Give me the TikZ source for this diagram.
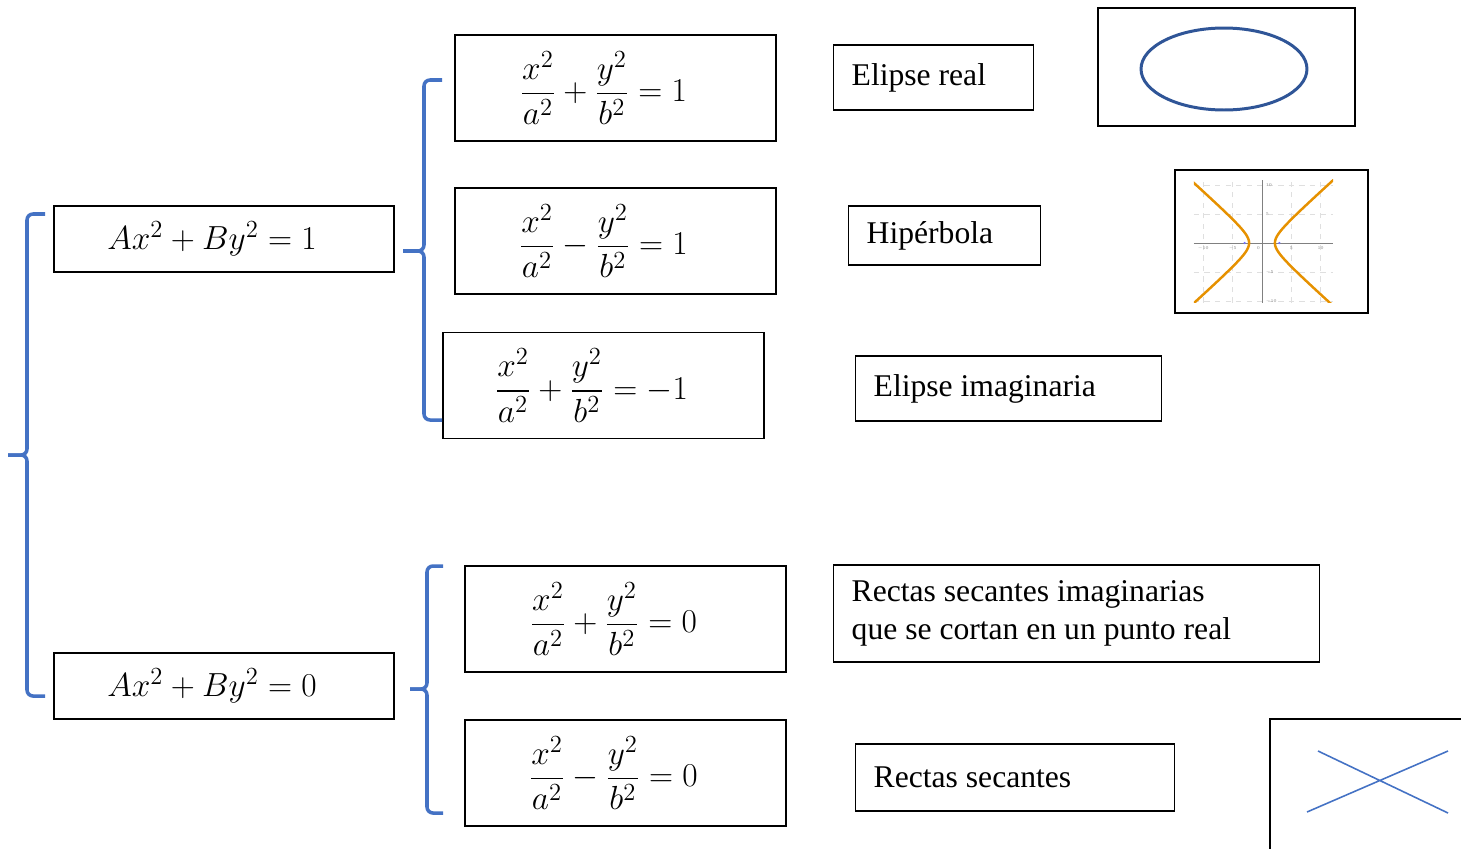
\RequirePackage{fix-cm}
\documentclass[tikz,border=0pt]{standalone}
\usepackage{fontspec}
\setmainfont{Liberation Serif}
\usepackage{amsmath}
\DeclareMathSizes{18}{19}{14}{10}

\definecolor{braceblue}{RGB}{68,114,196}
\definecolor{ellblue}{RGB}{47,85,151}
\definecolor{hyporange}{RGB}{230,145,0}

\tikzset{
  genbox/.style={draw, line width=0.8pt, minimum width=6.8cm, minimum height=1.32cm, inner sep=0pt,
    execute at end node={\hspace{0.48cm}}},
  eqbox/.style={draw, line width=0.8pt, minimum width=6.42cm, minimum height=2.12cm, inner sep=0pt,
    execute at end node={\hspace{0.48cm}}},
  namebox/.style={draw, line width=0.8pt, inner xsep=0.36cm, inner ysep=0pt, align=flush left, anchor=west},
  picbox/.style={draw, line width=0.8pt, inner sep=0pt},
  brace/.style={braceblue, line width=2pt, rounded corners=0.12cm},
  ticklabel/.style={font=\sffamily\fontsize{2.5}{3}\selectfont, gray, inner sep=0pt}
}

\begin{document}
\begin{tikzpicture}[x=0.02cm, y=-0.02cm, font=\fontsize{18}{21.6}\selectfont]
    \useasboundingbox (0,0) rectangle (1461,849);

    % ecuaciones
    \node (gen1) [genbox] at (224,239) {$Ax^2+By^2=1$};
    \node (gen0) [genbox] at (224,686) {$Ax^2+By^2=0$};
    \node (eqa) [eqbox] at (615.5,88) {$\dfrac{x^2}{a^2}+\dfrac{y^2}{b^2}=1$};
    \node (eqb) [eqbox] at (615.5,241) {$\dfrac{x^2}{a^2}-\dfrac{y^2}{b^2}=1$};
    \node (eqc) [eqbox] at (603.5,385.5) {$\dfrac{x^2}{a^2}+\dfrac{y^2}{b^2}=-1$};
    \node (eqd) [eqbox] at (625.5,619) {$\dfrac{x^2}{a^2}+\dfrac{y^2}{b^2}=0$};
    \node (eqe) [eqbox] at (625.5,773) {$\dfrac{x^2}{a^2}-\dfrac{y^2}{b^2}=0$};

    % nombres
    \node (elreal) [namebox, text width=3.28cm, minimum height=1.3cm] at (833,77.5) {Elipse real};
    \node (hiper) [namebox, text width=3.12cm, minimum height=1.18cm] at (848,235.5) {Hipérbola};
    \node (elimag) [namebox, text width=5.4cm, minimum height=1.3cm] at (855,388.5) {Elipse imaginaria};
    \node (rimag) [namebox, text width=9.0cm, minimum height=1.94cm] at (833,613.5)
      {Rectas secantes imaginarias\\que se cortan en un punto real};
    \node (rsec) [namebox, text width=5.66cm, minimum height=1.34cm] at (855,777.5) {Rectas secantes};

    % llaves
    \draw[brace] (45,214) -- (27,214) -- (27,455) -- (8,455);
    \draw[brace] (8,455) -- (27,455) -- (27,696) -- (45,696);
    \draw[brace] (442,80) -- (424,80) -- (424,251) -- (403,251);
    \draw[brace] (403,251) -- (424,251) -- (424,420) -- (442,420);
    \draw[brace] (443,566) -- (427,566) -- (427,689) -- (410,689);
    \draw[brace] (410,689) -- (427,689) -- (427,813) -- (443,813);

    % elipse
    \node (ellpic) [picbox, minimum width=5.14cm, minimum height=2.36cm] at (1226.5,67) {};
    \draw[ellblue, line width=1.7pt] (1224,69) ellipse [x radius=1.66cm, y radius=0.82cm];

    % hiperbola
    \node (hyppic) [picbox, minimum width=3.86cm, minimum height=2.86cm] at (1271.5,241.5) {};
    \begin{scope}[shift={(1262,243)}, x=0.1174cm, y=0.116cm]
      \draw[gray!25, dashed, line width=0.3pt] (-11.6,-10.3) grid[step=5] (12.1,10.9);
      \draw[gray, line width=0.4pt] (-11.6,0) -- (12.1,0) (0,-10.3) -- (0,10.9);
      \foreach \t in {-10,-5,5,10}
        \node[ticklabel, below] at (\t,-0.5) {$\t$};
      \node[ticklabel, below left] at (-0.3,-0.5) {$0$};
      \foreach \t in {-10,-5,5,10}
        \node[ticklabel, right] at (0.6,\t) {$\t$};
      \fill[blue!55] (-2.97,0) circle (0.7pt) (2.97,0) circle (0.7pt);
      \clip (-11.6,-10.3) rectangle (12.1,10.9);
      \draw[hyporange, line width=1.4pt] plot[domain=-2.45:2.45, samples=60, smooth] ({2.2*cosh(\x)},{2*sinh(\x)});
      \draw[hyporange, line width=1.4pt] plot[domain=-2.45:2.45, samples=60, smooth] ({-2.2*cosh(\x)},{2*sinh(\x)});
    \end{scope}

    % rectas
    \draw[line width=0.8pt] (1461,719) -- (1270,719) -- (1270,849);
    \draw[braceblue, line width=0.9pt] (1318,751) -- (1448,813) (1307,812) -- (1448,751);
\end{tikzpicture}
\end{document}
